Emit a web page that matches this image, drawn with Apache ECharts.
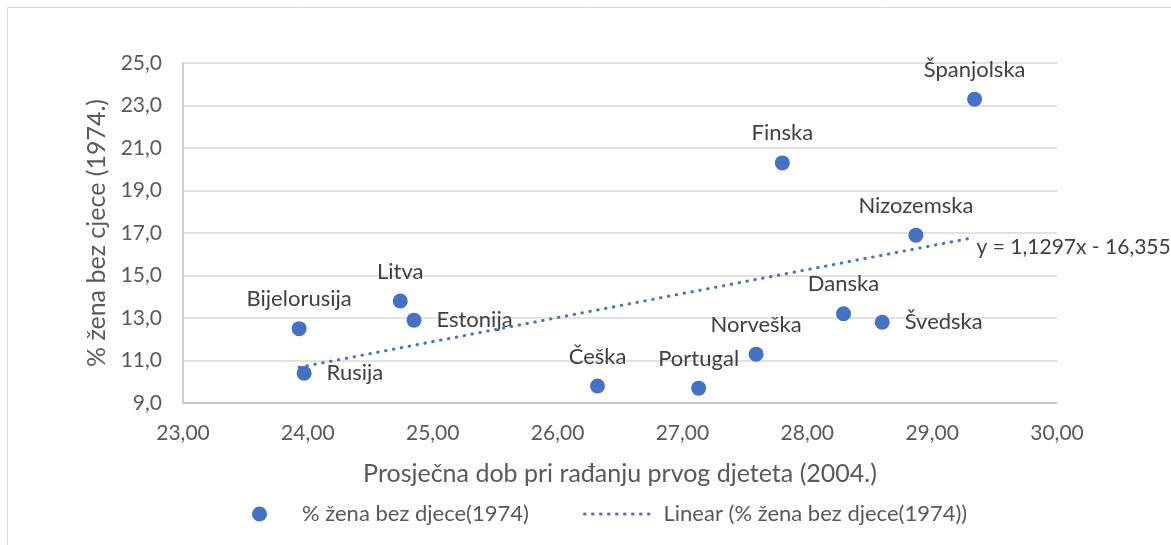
<!DOCTYPE html>
<html>
<head>
<meta charset="utf-8">
<script src="https://cdn.jsdelivr.net/npm/echarts@6/dist/echarts.min.js"></script>
<style>
  html, body { margin: 0; padding: 0; background: #fff; }
  #chart { width: 1171px; height: 545px; }
</style>
</head>
<body>
<div id="chart"></div>
<script>
// data
const countries = ['Bijelorusija', 'Rusija', 'Litva', 'Estonija', 'Češka', 'Portugal',
  'Norveška', 'Finska', 'Danska', 'Švedska', 'Nizozemska', 'Španjolska']
const ages = [23.93, 23.97, 24.74, 24.85, 26.32, 27.13, 27.59, 27.80, 28.29, 28.60, 28.87, 29.34]
const childless = [12.5, 10.4, 13.8, 12.9, 9.8, 9.7, 11.3, 20.3, 13.2, 12.8, 16.9, 23.3]
const trendSlope = 1.1297
const trendIntercept = -16.355
const seriesName = '% žena bez djece(1974)'
const trendName = 'Linear (% žena bez djece(1974))'
const xTitle = 'Prosječna dob pri rađanju prvog djeteta (2004.)'
const yTitle = '% žena bez cjece (1974.)'

const FONT = 'Lato, "Open Sans", sans-serif'
const BLUE = '#4472C4'
const rightLabelled = ['Rusija', 'Estonija', 'Švedska']

const points = countries.map((name, i) => ({
  name,
  value: [ages[i], childless[i]],
  label: rightLabelled.includes(name)
    ? { position: 'right', distance: 15 }
    : { position: 'top', distance: 11 },
}))

const xMin = Math.min(...ages)
const xMax = Math.max(...ages)
const trend = [xMin, xMax].map(x => [x, trendSlope * x + trendIntercept])

const comma = (v, d) => v.toFixed(d).replace('.', ',')

const chart = echarts.init(document.getElementById('chart'))
chart.setOption({
  backgroundColor: '#fff',
  animation: false,
  textStyle: { fontFamily: FONT },
  graphic: [{
    type: 'rect',
    shape: { x: 7.5, y: 7.5, width: 1300, height: 700 },
    style: { fill: 'none', stroke: '#D9D9D9', lineWidth: 1 },
    silent: true,
  }],
  grid: { left: 183, right: 114, top: 63, bottom: 142 },
  xAxis: {
    type: 'value',
    min: 23,
    max: 30,
    interval: 1,
    name: xTitle,
    nameLocation: 'middle',
    nameGap: 58,
    nameTextStyle: { color: '#595959', fontSize: 25, fontFamily: FONT },
    axisLine: { show: true, lineStyle: { color: '#BFBFBF', width: 1.5 } },
    axisTick: { show: false },
    splitLine: { show: false },
    axisLabel: {
      color: '#595959', fontSize: 21, margin: 20,
      formatter: v => comma(v, 2),
    },
  },
  yAxis: {
    type: 'value',
    min: 9,
    max: 25,
    interval: 2,
    name: yTitle,
    nameLocation: 'middle',
    nameGap: 74,
    nameTextStyle: { color: '#595959', fontSize: 25, fontFamily: FONT },
    axisLine: { show: true, lineStyle: { color: '#BFBFBF', width: 1.5 } },
    axisTick: { show: false },
    splitLine: { lineStyle: { color: '#D9D9D9', width: 1.5 } },
    axisLabel: {
      color: '#595959', fontSize: 21, margin: 21,
      formatter: v => comma(v, 1),
    },
  },
  legend: [{
    data: [seriesName],
    left: 252,
    top: 503,
    padding: 0,
    icon: 'circle',
    itemWidth: 15,
    itemHeight: 15,
    textStyle: { color: '#595959', fontSize: 22, fontFamily: FONT, padding: [0, 0, 0, 30] },
  }, {
    data: [trendName],
    left: 583,
    top: 503,
    padding: 0,
    itemWidth: 70,
    itemHeight: 15,
    itemStyle: { color: 'rgba(0,0,0,0)', borderWidth: 0 },
    lineStyle: { color: BLUE, width: 3, type: [0.5, 7.5], cap: 'round' },
    textStyle: { color: '#595959', fontSize: 22, fontFamily: FONT, padding: [0, 0, 0, 4] },
  }],
  series: [{
    name: seriesName,
    type: 'scatter',
    data: points,
    symbolSize: 15,
    itemStyle: { color: BLUE, opacity: 1 },
    label: {
      show: true,
      formatter: '{b}',
      color: '#404040',
      fontSize: 22,
      fontFamily: FONT,
    },
    z: 2,
  }, {
    name: trendName,
    type: 'line',
    data: trend,
    symbol: 'none',
    lineStyle: { color: BLUE, width: 3, type: [0.5, 7.5], cap: 'round' },
    itemStyle: { color: BLUE },
    endLabel: {
      show: true,
      formatter: 'y = 1,1297x - 16,355',
      color: '#404040',
      fontSize: 21,
      fontFamily: FONT,
      distance: 2,
      offset: [0, 10],
    },
    z: 3,
  }],
})
</script>
</body>
</html>
